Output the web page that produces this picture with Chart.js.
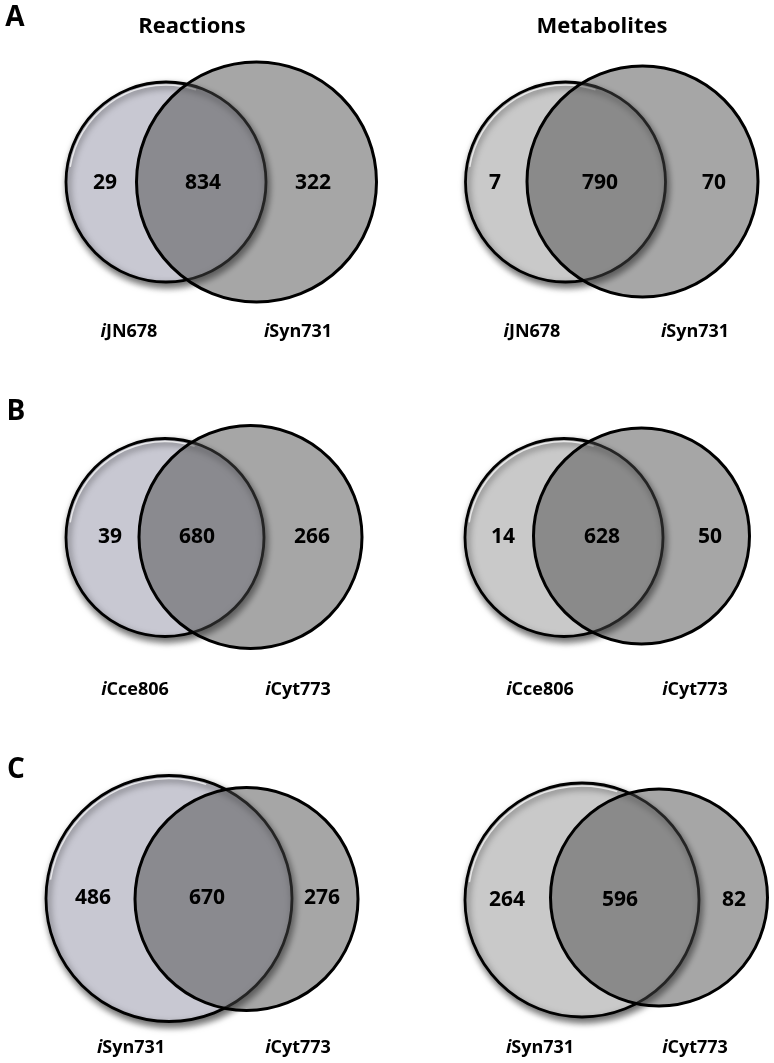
<!DOCTYPE html>
<html>
<head>
<meta charset="utf-8">
<script src="https://cdn.jsdelivr.net/npm/chart.js@4.4.1/dist/chart.umd.min.js"></script>
<style>
  html, body { margin: 0; padding: 0; background: #ffffff; }
  #wrap { width: 774px; height: 1063px; position: relative; }
</style>
</head>
<body>
<div id="wrap"><canvas id="c" width="774" height="1063"></canvas></div>
<script>
// ---------------- DATA ----------------
const panelLetters = ['A', 'B', 'C'];
const columnTitles = ['Reactions', 'Metabolites'];
const leftModels  = ['JN678', 'Cce806', 'Syn731'];   // each prefixed by italic "i"
const rightModels = ['Syn731', 'Cyt773', 'Cyt773'];
const reactionsLeftOnly   = [29, 39, 486];
const reactionsShared     = [834, 680, 670];
const reactionsRightOnly  = [322, 266, 276];
const metabolitesLeftOnly  = [7, 14, 264];
const metabolitesShared    = [790, 628, 596];
const metabolitesRightOnly = [70, 50, 82];

// ---------------- LAYOUT (positions / sizes, not data) ----------------
const leftCircleGeom = [
  [{x:166, y:182, r:100}, {x:165, y:537.5, r:99}, {x:169, y:898.5, r:123}],
  [{x:565.5, y:182, r:100}, {x:564, y:537.5, r:99}, {x:582, y:900, r:117}]
];
const rightCircleGeom = [
  [{x:256.5, y:182, r:120}, {x:250.5, y:537, r:111.5}, {x:246.5, y:899, r:111.5}],
  [{x:642.5, y:181.5, r:115.5}, {x:641.5, y:536, r:108}, {x:659, y:897.5, r:108.5}]
];
const countPosX = [
  [[105, 203, 313], [110, 197, 312], [93, 207, 322]],
  [[495, 600, 714], [503, 602, 710], [507, 620, 734]]
];
const countPosY = [[183, 537, 898], [183, 537, 900]];
const modelLabelX = [[[129, 298], [135, 298], [131, 298]], [[532, 695], [540, 695], [540, 695]]];
const modelLabelY = [332, 690, 1048];
const titleX = [192, 602], titleY = 27;
const letterPos = [{x:15, y:18}, {x:16, y:412}, {x:16, y:770}];

const leftFill = ['rgb(200,200,210)', 'rgb(201,201,201)'];
const rightFill = 'rgba(73,73,73,0.49)';
const FONT = '"Open Sans", "DejaVu Sans", sans-serif';

// ---------------- build datasets ----------------
const leftPts = [], leftColors = [], rightPts = [];
for (let col = 0; col < 2; col++) {
  for (let row = 0; row < 3; row++) {
    leftPts.push({...leftCircleGeom[col][row]});
    leftColors.push(leftFill[col]);
    rightPts.push({...rightCircleGeom[col][row]});
  }
}

const countsByCol = [
  [reactionsLeftOnly, reactionsShared, reactionsRightOnly],
  [metabolitesLeftOnly, metabolitesShared, metabolitesRightOnly]
];

const shadowPlugin = {
  id: 'shadowPlugin',
  beforeDatasetDraw(chart, args) {
    if (chart.data.datasets[args.index].label === 'left') {
      const ctx = chart.ctx;
      ctx.save();
      ctx.shadowColor = 'rgba(0,0,0,0.6)';
      ctx.shadowBlur = 7;
      ctx.shadowOffsetX = 2;
      ctx.shadowOffsetY = 4;
    }
  },
  afterDatasetDraw(chart, args) {
    const ctx = chart.ctx;
    if (chart.data.datasets[args.index].label === 'left') {
      ctx.restore();
      const xs = chart.scales.x, ys = chart.scales.y;
      leftPts.forEach(p => {
        ctx.save();
        ctx.beginPath();
        ctx.arc(xs.getPixelForValue(p.x), ys.getPixelForValue(p.y), p.r - 3, Math.PI * 1.05, Math.PI * 1.6);
        ctx.strokeStyle = 'rgba(255,255,255,0.75)';
        ctx.lineWidth = 1.5;
        ctx.stroke();
        ctx.restore();
      });
    }
  }
};

const textPlugin = {
  id: 'textPlugin',
  afterDatasetsDraw(chart) {
    const ctx = chart.ctx;
    const xs = chart.scales.x, ys = chart.scales.y;
    const px = v => xs.getPixelForValue(v), py = v => ys.getPixelForValue(v);
    ctx.save();
    ctx.fillStyle = '#000';
    ctx.textBaseline = 'middle';
    ctx.textAlign = 'center';
    ctx.font = 'bold 22px ' + FONT;
    columnTitles.forEach((t, i) => ctx.fillText(t, px(titleX[i]), py(titleY)));
    ctx.font = 'bold 28px ' + FONT;
    panelLetters.forEach((l, i) => ctx.fillText(l, px(letterPos[i].x), py(letterPos[i].y)));
    ctx.font = 'bold 21px ' + FONT;
    for (let col = 0; col < 2; col++) {
      for (let row = 0; row < 3; row++) {
        for (let k = 0; k < 3; k++) {
          ctx.fillText(String(countsByCol[col][k][row]), px(countPosX[col][row][k]), py(countPosY[col][row]));
        }
      }
    }
    const drawModel = (name, cx, cy) => {
      ctx.font = 'italic bold 18px ' + FONT;
      const wi = ctx.measureText('i').width;
      ctx.font = 'bold 18px ' + FONT;
      const wn = ctx.measureText(name).width;
      const x0 = cx - (wi + wn) / 2;
      ctx.textAlign = 'left';
      ctx.font = 'italic bold 18px ' + FONT;
      ctx.fillText('i', x0, cy);
      ctx.font = 'bold 18px ' + FONT;
      ctx.fillText(name, x0 + wi, cy);
      ctx.textAlign = 'center';
    };
    for (let col = 0; col < 2; col++) {
      for (let row = 0; row < 3; row++) {
        drawModel(leftModels[row], px(modelLabelX[col][row][0]), py(modelLabelY[row]));
        drawModel(rightModels[row], px(modelLabelX[col][row][1]), py(modelLabelY[row]));
      }
    }
    ctx.restore();
  }
};

new Chart(document.getElementById('c'), {
  type: 'bubble',
  data: {
    datasets: [
      {
        label: 'left',
        data: leftPts,
        backgroundColor: leftColors,
        borderColor: '#000',
        borderWidth: 2.8,
        hoverBorderWidth: 2.8,
        hoverRadius: 0,
        order: 2,
        clip: false
      },
      {
        label: 'right',
        data: rightPts,
        backgroundColor: rightFill,
        borderColor: '#000',
        borderWidth: 3,
        hoverBorderWidth: 3,
        hoverRadius: 0,
        order: 1,
        clip: false
      }
    ]
  },
  options: {
    responsive: false,
    devicePixelRatio: 1,
    animation: false,
    events: [],
    layout: { padding: 0, autoPadding: false },
    plugins: { legend: { display: false }, tooltip: { enabled: false }, title: { display: false } },
    scales: {
      x: { type: 'linear', min: 0, max: 774, display: false },
      y: { type: 'linear', min: 0, max: 1063, reverse: true, display: false }
    }
  },
  plugins: [shadowPlugin, textPlugin]
});
</script>
</body>
</html>
